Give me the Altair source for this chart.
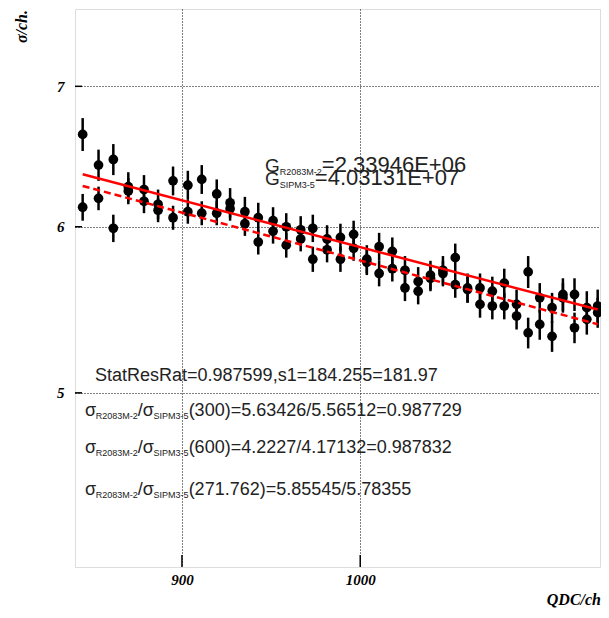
import altair as alt
import pandas as pd

# ---------------- data ----------------
qdc = [844.3, 853.2, 861.5, 869.9, 878.7, 886.6, 895.0, 903.3, 911.1, 919.5,
       927.0, 935.3, 942.8, 951.1, 958.5, 966.6, 973.4, 981.4, 988.9, 996.3,
       1003.7, 1010.6, 1018.0, 1025.1, 1032.5, 1039.4, 1046.4, 1053.3, 1060.2, 1067.2,
       1074.1, 1080.8, 1087.7, 1094.2, 1100.7, 1107.6, 1113.7, 1120.2, 1127.1, 1133.2]
sigma_a = [6.64, 6.42, 6.46, 6.27, 6.25, 6.15, 6.31, 6.28, 6.32, 6.22,
           6.16, 6.10, 6.06, 6.04, 6.00, 5.98, 5.99, 5.92, 5.93, 5.95,
           5.79, 5.87, 5.84, 5.72, 5.65, 5.69, 5.72, 5.80, 5.61, 5.61,
           5.59, 5.64, 5.51, 5.71, 5.55, 5.49, 5.57, 5.57, 5.49, 5.50]
err_a = [0.12, 0.11, 0.11, 0.10, 0.10, 0.10, 0.10, 0.10, 0.10, 0.10,
         0.10, 0.10, 0.10, 0.09, 0.09, 0.09, 0.09, 0.09, 0.09, 0.09,
         0.09, 0.09, 0.09, 0.09, 0.09, 0.09, 0.09, 0.09, 0.09, 0.09,
         0.09, 0.09, 0.09, 0.10, 0.09, 0.09, 0.10, 0.10, 0.10, 0.10]
sigma_b = [6.13, 6.19, 5.99, 6.24, 6.17, 6.11, 6.06, 6.10, 6.09, 6.09,
           6.12, 6.02, 5.90, 5.97, 5.88, 5.92, 5.79, 5.85, 5.79, 5.86,
           5.77, 5.70, 5.73, 5.61, 5.59, 5.67, 5.70, 5.63, 5.60, 5.51,
           5.50, 5.50, 5.44, 5.34, 5.39, 5.32, 5.55, 5.37, 5.42, 5.46]
err_b = [0.09, 0.08, 0.09, 0.09, 0.08, 0.08, 0.08, 0.08, 0.08, 0.08,
         0.08, 0.08, 0.08, 0.08, 0.08, 0.08, 0.08, 0.08, 0.08, 0.08,
         0.08, 0.08, 0.08, 0.08, 0.08, 0.08, 0.08, 0.08, 0.08, 0.08,
         0.08, 0.08, 0.08, 0.09, 0.09, 0.09, 0.09, 0.09, 0.09, 0.09]

fit_x = [844.3, 1133.2]
fit_solid = [6.356, 5.479]
fit_dashed = [6.275, 5.391]

x_ticks = [900, 1000]
y_ticks = [5, 6, 7]

gain_subs = ["R2083M-2", "SIPM3-5"]
gain_vals = ["=2.33946E+06", "=4.03131E+07"]
stat_text = "StatResRat=0.987599,s1=184.255=181.97"
ratio_args = ["(300)=5.63426/5.56512=0.987729",
              "(600)=4.2227/4.17132=0.987832",
              "(271.762)=5.85545/5.78355"]
x_title = "QDC/ch"
y_title = "σ/ch."

# ---------------- layout ----------------
W, H = 525, 558
XDOM = [840, 1134.5]
YDOM = [4.13, 7.62]

pts = pd.DataFrame({
    "qdc": qdc * 2,
    "sigma": sigma_a + sigma_b,
    "err": err_a + err_b,
})
pts["lo"] = pts["sigma"] - pts["err"]
pts["hi"] = pts["sigma"] + pts["err"]

fit_s = pd.DataFrame({"qdc": fit_x, "sigma": fit_solid})
fit_d = pd.DataFrame({"qdc": fit_x, "sigma": fit_dashed})

serif = "Liberation Serif"
sans = "Liberation Sans"

xscale = alt.Scale(domain=XDOM, nice=False, zero=False)
yscale = alt.Scale(type="log", domain=YDOM, nice=False, zero=False)

xaxis = alt.Axis(values=x_ticks, title=None, grid=True, gridDash=[1, 2], gridColor="black",
                 gridOpacity=1, gridWidth=1, ticks=False, domain=False, format="d",
                 labelFont=serif, labelFontStyle="italic", labelFontWeight="bold",
                 labelFontSize=15, labelPadding=5, labelColor="black")
yaxis = alt.Axis(values=y_ticks, title=None, grid=True, gridDash=[1, 2], gridColor="black",
                 gridOpacity=1, gridWidth=1, ticks=False, domain=False, format="d",
                 labelFont=serif, labelFontStyle="italic", labelFontWeight="bold",
                 labelFontSize=15, labelPadding=11, labelColor="black")

X = alt.X("qdc:Q", scale=xscale, axis=xaxis)
Y = alt.Y("sigma:Q", scale=yscale, axis=yaxis)

base = alt.Chart(pts)
errbars = base.mark_rule(color="black", strokeWidth=2.5).encode(
    x=X, y=alt.Y("lo:Q", scale=yscale, axis=yaxis), y2="hi:Q")
points = base.mark_circle(color="black", size=95, opacity=1).encode(x=X, y=Y)
line_s = alt.Chart(fit_s).mark_line(color="#ff0000", strokeWidth=2.5).encode(x=X, y=Y)
line_d = alt.Chart(fit_d).mark_line(color="#ff0000", strokeWidth=2.5,
                                    strokeDash=[7, 4]).encode(x=X, y=Y)

xt = alt.Chart(pd.DataFrame({"qdc": x_ticks})).mark_rule(color="black", strokeWidth=1.5).encode(
    x=X, y=alt.value(H), y2=alt.value(H - 12))
yt = alt.Chart(pd.DataFrame({"sigma": y_ticks})).mark_rule(color="black", strokeWidth=1.5).encode(
    y=Y, x=alt.value(0), x2=alt.value(7))

# --- rich text helper (simple Arial metrics) ---
WID = {c: 0.556 for c in "0123456789"}
WID.update({".": 0.278, ",": 0.278, "=": 0.584, "+": 0.584, "-": 0.333, "/": 0.278,
            "(": 0.333, ")": 0.333, "E": 0.667, "G": 0.778, "R": 0.722, "M": 0.833,
            "S": 0.667, "I": 0.278, "P": 0.667, "σ": 0.60})


def tw(s, size):
    return sum(WID.get(c, 0.556) for c in s) * size


def piece(text, x, y, size, color="#222222", font=sans):
    return alt.Chart(pd.DataFrame({"t": [text]})).mark_text(
        align="left", baseline="alphabetic", font=font, fontSize=size, color=color
    ).encode(text="t:N", x=alt.value(x), y=alt.value(y))


def rich(parts, x, y):
    out = []
    for txt, size, drop in parts:
        out.append(piece(txt, x, y + drop, size))
        x += tw(txt, size)
    return out


texts = []
# gain lines
for i, (sub, val) in enumerate(zip(gain_subs, gain_vals)):
    texts += rich([("G", 19, 0), (sub, 9, 3), (val, 22, 0)], 190, 163 + i * 13)
# stat line
texts.append(piece(stat_text, 20, 372, 18))
# ratio lines
for i, arg in enumerate(ratio_args):
    yb = [407, 444, 486][i]
    texts += rich([("σ", 18, 0), (gain_subs[0], 9, 3), ("/", 18, 0), ("σ", 18, 0),
                   (gain_subs[1], 9, 3), (arg, 18, 0)], 10, yb)

xtitle = alt.Chart(pd.DataFrame({"t": [x_title]})).mark_text(
    align="right", baseline="alphabetic", font=serif, fontStyle="italic", fontWeight="bold",
    fontSize=16, color="black").encode(text="t:N", x=alt.value(W + 1), y=alt.value(H + 38))
ytitle = alt.Chart(pd.DataFrame({"t": [y_title]})).mark_text(
    align="right", baseline="middle", font=serif, fontStyle="italic", fontWeight="bold",
    fontSize=16, color="black", angle=270).encode(text="t:N", x=alt.value(-53), y=alt.value(1))

chart = alt.layer(errbars, points, line_s, line_d, xt, yt, *texts, xtitle, ytitle).properties(
    width=W, height=H,
    autosize=alt.AutoSizeParams(type="none"),
    padding={"left": 67, "top": 1, "right": 1, "bottom": 41},
).configure_view(stroke="black", strokeWidth=2).configure(background="white")

chart.save("out.html", embed_options={"renderer": "svg", "actions": False})
